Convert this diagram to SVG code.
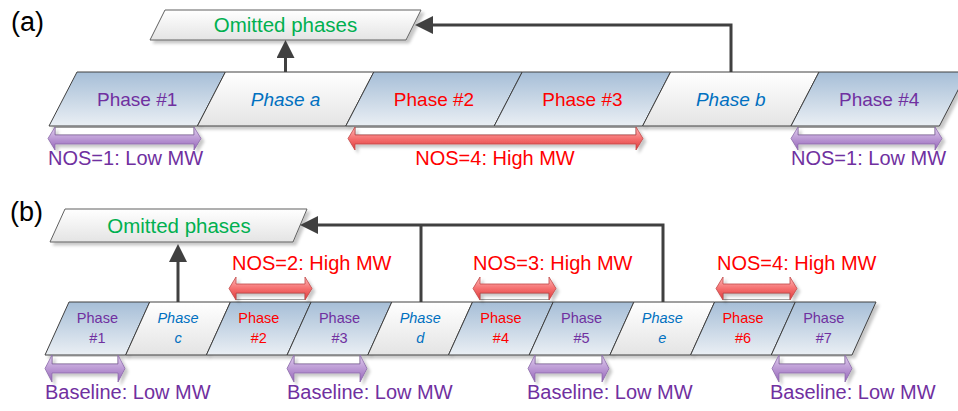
<svg xmlns="http://www.w3.org/2000/svg" width="958" height="411" viewBox="0 0 958 411">
<defs>
<linearGradient id="gBlue" x1="0" y1="0" x2="0" y2="1"><stop offset="0" stop-color="#A6BED7"/><stop offset="1" stop-color="#EAEFF4"/></linearGradient>
<linearGradient id="gWhite" x1="0" y1="0" x2="0" y2="1"><stop offset="0" stop-color="#FFFFFF"/><stop offset="1" stop-color="#E4E4E4"/></linearGradient>
<linearGradient id="gPurple" x1="0" y1="0" x2="0" y2="1"><stop offset="0" stop-color="#E2D0EF"/><stop offset="1" stop-color="#9564BA"/></linearGradient>
<linearGradient id="gRed" x1="0" y1="0" x2="0" y2="1"><stop offset="0" stop-color="#FFB8B8"/><stop offset="0.5" stop-color="#F57070"/><stop offset="1" stop-color="#E03A3A"/></linearGradient>
<filter id="sh" x="-10%" y="-20%" width="130%" height="160%"><feDropShadow dx="3" dy="3" stdDeviation="1.5" flood-color="#000" flood-opacity="0.22"/></filter>
<marker id="ah" markerUnits="userSpaceOnUse" markerWidth="20" markerHeight="20" refX="0" refY="9" orient="auto"><path d="M0,0 L18,9 L0,18 Z" fill="#404040"/></marker>
</defs>
<style>
.pb{fill:url(#gBlue);stroke:#404040;stroke-width:1;filter:url(#sh)}
.pw{fill:url(#gWhite);stroke:#404040;stroke-width:1;filter:url(#sh)}
.om{fill:url(#gWhite);stroke:#606060;stroke-width:1;filter:url(#sh)}
.t{font-family:"Liberation Sans",Arial,sans-serif;text-anchor:middle}
.l{font-family:"Liberation Sans",Arial,sans-serif;font-size:20px}
.big{font-size:19px}
.sm{font-size:14.5px}
.pu{fill:#7030A0}
.rd{fill:#FF0000}
.bl{fill:#0070C0;font-style:italic}
.gr{fill:#00B050;font-size:20.5px}
.ap{fill:url(#gPurple);stroke:#8A6AA8;stroke-width:0.8;filter:url(#sh)}
.ar{fill:url(#gRed);stroke:#C04848;stroke-width:0.8;filter:url(#sh)}
.wr{fill:#FFFFFF;stroke:#8C8C8C;stroke-width:0.8}
.cn{fill:none;stroke:#404040;stroke-width:3;marker-end:url(#ah)}
.cl{fill:none;stroke:#404040;stroke-width:3}
</style>
<rect width="958" height="411" fill="#FFFFFF"/>
<text x="11" y="31" font-family="Liberation Sans,Arial,sans-serif" font-size="27">(a)</text>
<text x="10" y="221" font-family="Liberation Sans,Arial,sans-serif" font-size="27">(b)</text>

<!-- (a) nodes -->
<g id="omitted-a"><polygon class="om" points="165,10 421,10 406,40 150,40"/><text class="t gr" x="285.5" y="32">Omitted phases</text></g>
<g id="a-phase1"><polygon class="pb" points="77,72 225.4,72 197.4,126 49,126"/><text class="t big pu" x="137.2" y="106">Phase #1</text></g>
<g id="a-phasea"><polygon class="pw" points="225.4,72 373.8,72 345.8,126 197.4,126"/><text class="t big bl" x="285.6" y="106">Phase a</text></g>
<g id="a-phase2"><polygon class="pb" points="373.8,72 522.2,72 494.2,126 345.8,126"/><text class="t big rd" x="434" y="106">Phase #2</text></g>
<g id="a-phase3"><polygon class="pb" points="522.2,72 670.6,72 642.6,126 494.2,126"/><text class="t big rd" x="582.4" y="106">Phase #3</text></g>
<g id="a-phaseb"><polygon class="pw" points="670.6,72 819,72 791,126 642.6,126"/><text class="t big bl" x="730.8" y="106">Phase b</text></g>
<g id="a-phase4"><polygon class="pb" points="819,72 967.4,72 939.4,126 791,126"/><text class="t big pu" x="879.2" y="106">Phase #4</text></g>

<!-- (a) spans -->
<g id="a-span1"><rect class="wr" x="55" y="127.5" width="139" height="7.5"/><path class="ap" d="M48,138.5 L55,127 L55,135 L194,135 L194,127 L201,138.5 L194,150 L194,144 L55,144 L55,150 Z"/><text class="l pu" x="48" y="165">NOS=1: Low MW</text></g>
<g id="a-span2"><rect class="wr" x="355" y="127.5" width="281" height="7.5"/><path class="ar" d="M348,138.5 L355,127 L355,135 L636,135 L636,127 L643,138.5 L636,150 L636,144 L355,144 L355,150 Z"/><text class="l rd" x="495" y="165" text-anchor="middle">NOS=4: High MW</text></g>
<g id="a-span3"><rect class="wr" x="798" y="127.5" width="137" height="7.5"/><path class="ap" d="M791,138.5 L798,127 L798,135 L935,135 L935,127 L942,138.5 L935,150 L935,144 L798,144 L798,150 Z"/><text class="l pu" x="791" y="165">NOS=1: Low MW</text></g>

<!-- (b) nodes -->
<g id="omitted-b"><polygon class="om" points="65,209 307,209 293,242 50,242"/><text class="t gr" x="179" y="233">Omitted phases</text></g>
<g id="b-phase1"><polygon class="pb" points="69,302 149.7,302 125.7,355 45,355"/><text class="t sm pu" x="97.4" y="323">Phase</text><text class="t sm pu" x="97.4" y="343">#1</text></g>
<g id="b-phasec"><polygon class="pw" points="149.7,302 230.4,302 206.4,355 125.7,355"/><text class="t sm bl" x="178" y="323">Phase</text><text class="t sm bl" x="178" y="343">c</text></g>
<g id="b-phase2"><polygon class="pb" points="230.4,302 311.1,302 287.1,355 206.4,355"/><text class="t sm rd" x="258.8" y="323">Phase</text><text class="t sm rd" x="258.8" y="343">#2</text></g>
<g id="b-phase3"><polygon class="pb" points="311.1,302 391.8,302 367.8,355 287.1,355"/><text class="t sm pu" x="339.5" y="323">Phase</text><text class="t sm pu" x="339.5" y="343">#3</text></g>
<g id="b-phased"><polygon class="pw" points="391.8,302 472.5,302 448.5,355 367.8,355"/><text class="t sm bl" x="420.2" y="323">Phase</text><text class="t sm bl" x="420.2" y="343">d</text></g>
<g id="b-phase4"><polygon class="pb" points="472.5,302 553.2,302 529.2,355 448.5,355"/><text class="t sm rd" x="500.9" y="323">Phase</text><text class="t sm rd" x="500.9" y="343">#4</text></g>
<g id="b-phase5"><polygon class="pb" points="553.2,302 633.9,302 609.9,355 529.2,355"/><text class="t sm pu" x="581.6" y="323">Phase</text><text class="t sm pu" x="581.6" y="343">#5</text></g>
<g id="b-phasee"><polygon class="pw" points="633.9,302 714.6,302 690.6,355 609.9,355"/><text class="t sm bl" x="662.3" y="323">Phase</text><text class="t sm bl" x="662.3" y="343">e</text></g>
<g id="b-phase6"><polygon class="pb" points="714.6,302 795.3,302 771.3,355 690.6,355"/><text class="t sm rd" x="743" y="323">Phase</text><text class="t sm rd" x="743" y="343">#6</text></g>
<g id="b-phase7"><polygon class="pb" points="795.3,302 876,302 852,355 771.3,355"/><text class="t sm pu" x="823.7" y="323">Phase</text><text class="t sm pu" x="823.7" y="343">#7</text></g>

<!-- (b) red spans -->
<g id="b-high1"><rect class="wr" x="236" y="293" width="69" height="6.5"/><path class="ar" d="M229,288.5 L236,277 L236,284 L305,284 L305,277 L312,288.5 L305,300 L305,293 L236,293 L236,300 Z"/><text class="l rd" x="232" y="270">NOS=2: High MW</text></g>
<g id="b-high2"><rect class="wr" x="480" y="293" width="69" height="6.5"/><path class="ar" d="M473,288.5 L480,277 L480,284 L549,284 L549,277 L556,288.5 L549,300 L549,293 L480,293 L480,300 Z"/><text class="l rd" x="473" y="270">NOS=3: High MW</text></g>
<g id="b-high3"><rect class="wr" x="723" y="293" width="67" height="6.5"/><path class="ar" d="M716,288.5 L723,277 L723,284 L790,284 L790,277 L797,288.5 L790,300 L790,293 L723,293 L723,300 Z"/><text class="l rd" x="717" y="270">NOS=4: High MW</text></g>

<!-- (b) purple spans -->
<g id="b-base1"><rect class="wr" x="52" y="356" width="66" height="8"/><path class="ap" d="M45,368.5 L52,355 L52,364 L118,364 L118,355 L125,368.5 L118,382 L118,373 L52,373 L52,382 Z"/><text class="l pu" x="45" y="399">Baseline: Low MW</text></g>
<g id="b-base2"><rect class="wr" x="294" y="356" width="66" height="8"/><path class="ap" d="M287,368.5 L294,355 L294,364 L360,364 L360,355 L367,368.5 L360,382 L360,373 L294,373 L294,382 Z"/><text class="l pu" x="287" y="399">Baseline: Low MW</text></g>
<g id="b-base3"><rect class="wr" x="535" y="356" width="67" height="8"/><path class="ap" d="M528,368.5 L535,355 L535,364 L602,364 L602,355 L609,368.5 L602,382 L602,373 L535,373 L535,382 Z"/><text class="l pu" x="527" y="399">Baseline: Low MW</text></g>
<g id="b-base4"><rect class="wr" x="779" y="356" width="66" height="8"/><path class="ap" d="M772,368.5 L779,355 L779,364 L845,364 L845,355 L852,368.5 L845,382 L845,373 L779,373 L779,382 Z"/><text class="l pu" x="770" y="399">Baseline: Low MW</text></g>

<!-- connectors -->
<g id="connectors">
<path class="cn" d="M285.5,72 V58"/>
<path class="cn" d="M731,72 V25 H433"/>
<path class="cn" d="M178,302 V262"/>
<path class="cl" d="M421,302 V225"/>
<path class="cn" d="M663,302 V225 H318"/>
</g>
</svg>
